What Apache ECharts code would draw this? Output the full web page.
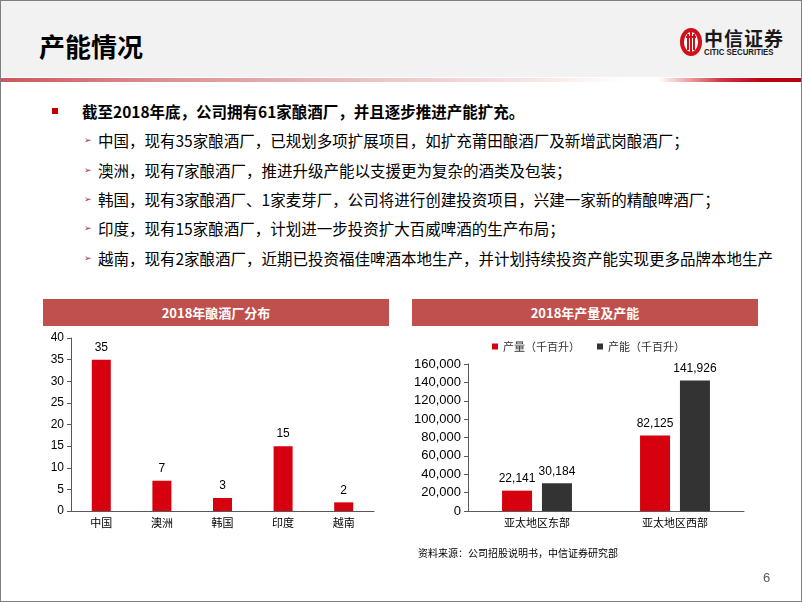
<!DOCTYPE html>
<html><head><meta charset="utf-8">
<script src="https://cdn.jsdelivr.net/npm/echarts@6/dist/echarts.min.js"></script>
<style>
html,body{margin:0;padding:0;background:#fff;}
#slide{position:relative;width:802px;height:602px;box-sizing:border-box;border:1px solid #7f7f7f;overflow:hidden;font-family:"Noto Sans CJK SC",sans-serif;color:#000;}
#chart{position:absolute;left:0;top:0;width:802px;height:602px;}
.abs{position:absolute;white-space:nowrap;}
#hdr{left:0;top:0;width:802px;height:76px;background:#f2f2f2;}
#hline{left:0;top:77px;width:802px;height:4px;background:linear-gradient(to right,#c9585b 0%,#dc8f91 20%,#ebc0c0 45%,#f8e8e8 68%,#ffffff 78%,#ffffff 82%,#ec9a9a 86%,#d03040 90%,#c00010 95%,#b8000e 100%);}
.txt{font-size:15.5px;line-height:20px;}
.arr{font-family:"DejaVu Sans";font-size:9px;color:#b03030;line-height:20px;}
.bar{height:27px;background:#c0504d;color:#fff;font-weight:bold;font-size:13px;line-height:27px;text-align:center;}
</style></head>
<body>
<div id="slide">
  <div id="hdr" class="abs"></div>
  <div id="hline" class="abs"></div>
  <div class="abs" style="left:38px;top:30px;font-size:26px;font-weight:bold;line-height:30px;">产能情况</div>
  <!-- logo -->
  <div class="abs" style="left:679px;top:27px;width:22px;height:28px;border-radius:50%;background:#d0101a;"></div>
  <div class="abs" style="left:683px;top:31px;width:14px;height:20px;border-radius:50%;background:#fff;"></div>
  <div class="abs" style="left:686px;top:33px;width:2px;height:16px;background:#d0101a;"></div>
  <div class="abs" style="left:689px;top:31px;width:2px;height:20px;background:#d0101a;"></div>
  <div class="abs" style="left:692px;top:33px;width:2px;height:16px;background:#d0101a;"></div>
  <div class="abs" style="left:685px;top:35px;width:10px;height:2px;background:#d0101a;"></div>
  <div class="abs" style="left:703px;top:26px;font-size:19px;font-weight:bold;line-height:22px;color:#1a1a1a;font-family:'Noto Sans CJK SC';letter-spacing:1px;">中信证券</div>
  <div class="abs" style="left:703px;top:47px;font-size:8.5px;font-weight:bold;line-height:9px;color:#1a1a1a;font-family:'Liberation Sans Narrow','Liberation Sans';transform:scaleX(0.92);transform-origin:left;">CITIC SECURITIES</div>

  <!-- bullets -->
  <div class="abs" style="left:51px;top:107px;width:6px;height:6px;background:#c00000;"></div>
  <div class="abs txt" style="left:81px;top:100px;font-weight:bold;">截至2018年底，公司拥有61家酿酒厂，并且逐步推进产能扩充。</div>
  <div class="abs arr" style="left:83px;top:129px;">➢</div>
  <div class="abs txt" style="left:97px;top:129px;">中国，现有35家酿酒厂，已规划多项扩展项目，如扩充莆田酿酒厂及新增武岗酿酒厂；</div>
  <div class="abs arr" style="left:83px;top:159px;">➢</div>
  <div class="abs txt" style="left:97px;top:159px;">澳洲，现有7家酿酒厂，推进升级产能以支援更为复杂的酒类及包装；</div>
  <div class="abs arr" style="left:83px;top:188px;">➢</div>
  <div class="abs txt" style="left:97px;top:188px;">韩国，现有3家酿酒厂、1家麦芽厂，公司将进行创建投资项目，兴建一家新的精酿啤酒厂；</div>
  <div class="abs arr" style="left:83px;top:217px;">➢</div>
  <div class="abs txt" style="left:97px;top:217px;">印度，现有15家酿酒厂，计划进一步投资扩大百威啤酒的生产布局；</div>
  <div class="abs arr" style="left:83px;top:247px;">➢</div>
  <div class="abs txt" style="left:97px;top:247px;">越南，现有2家酿酒厂，近期已投资福佳啤酒本地生产，并计划持续投资产能实现更多品牌本地生产</div>

  <!-- chart title bars -->
  <div class="abs bar" style="left:42px;top:298px;width:346px;">2018年酿酒厂分布</div>
  <div class="abs bar" style="left:411px;top:298px;width:346px;">2018年产量及产能</div>

  <div id="chart" class="abs"></div>

  <div class="abs" style="left:417px;top:545px;font-size:10px;line-height:14px;">资料来源：公司招股说明书，中信证券研究部</div>
  <div class="abs" style="left:762px;top:569px;font-size:13px;line-height:16px;color:#595959;font-family:'Liberation Sans';">6</div>
</div>
<script>
// ---- data ----
const factoryCats = ['中国', '澳洲', '韩国', '印度', '越南'];
const factoryCounts = [35, 7, 3, 15, 2];
const regionCats = ['亚太地区东部', '亚太地区西部'];
const outputVals = [22141, 82125];
const capacityVals = [30184, 141926];
const seriesNames = ['产量（千百升）', '产能（千百升）'];

const numFont = 'Arial, "Liberation Sans", "Noto Sans CJK SC", sans-serif';
const fmt = v => String(v).replace(/\B(?=(\d{3})+(?!\d))/g, ',');
const axisLineStyle = { color: '#595959', width: 1 };

const chart = echarts.init(document.getElementById('chart'), null, { renderer: 'canvas' });
chart.setOption({
  animation: false,
  backgroundColor: 'transparent',
  legend: {
    left: 491, top: 340, padding: 0, itemWidth: 6, itemHeight: 6, itemGap: 17, icon: 'rect',
    textStyle: { fontSize: 11, color: '#333', fontFamily: '"Noto Sans CJK SC"' },
    data: seriesNames
  },
  grid: [
    { left: 70, top: 337, width: 303, height: 173 },
    { left: 467, top: 363, width: 276, height: 147 }
  ],
  xAxis: [
    { type: 'category', gridIndex: 0, data: factoryCats,
      axisLine: { lineStyle: axisLineStyle }, axisTick: { show: false },
      axisLabel: { color: '#000', fontSize: 11, margin: 6, fontFamily: '"Noto Sans CJK SC"' } },
    { type: 'category', gridIndex: 1, data: regionCats,
      axisLine: { lineStyle: axisLineStyle }, axisTick: { show: false },
      axisLabel: { color: '#000', fontSize: 11, margin: 6, fontFamily: '"Noto Sans CJK SC"' } }
  ],
  yAxis: [
    { type: 'value', gridIndex: 0, min: 0, max: 40, interval: 5,
      axisLine: { show: true, lineStyle: axisLineStyle }, axisTick: { show: true, length: 4, lineStyle: axisLineStyle },
      splitLine: { show: false },
      axisLabel: { color: '#000', fontSize: 12, margin: 7, fontFamily: numFont } },
    { type: 'value', gridIndex: 1, min: 0, max: 160000, interval: 20000,
      axisLine: { show: true, lineStyle: axisLineStyle }, axisTick: { show: true, length: 4, lineStyle: axisLineStyle },
      splitLine: { show: false },
      axisLabel: { color: '#000', fontSize: 13, margin: 7, fontFamily: numFont, formatter: fmt } }
  ],
  series: [
    { type: 'bar', xAxisIndex: 0, yAxisIndex: 0, data: factoryCounts, barWidth: 19,
      itemStyle: { color: '#d7000f' },
      label: { show: true, position: 'top', distance: 6, color: '#000', fontSize: 12, fontFamily: numFont } },
    { name: seriesNames[0], type: 'bar', xAxisIndex: 1, yAxisIndex: 1, data: outputVals, barWidth: 30, barGap: '33%',
      itemStyle: { color: '#d7000f' },
      label: { show: true, position: 'top', distance: 6, color: '#000', fontSize: 12, fontFamily: numFont, formatter: p => fmt(p.value) } },
    { name: seriesNames[1], type: 'bar', xAxisIndex: 1, yAxisIndex: 1, data: capacityVals, barWidth: 30, barGap: '33%',
      itemStyle: { color: '#333333' },
      label: { show: true, position: 'top', distance: 6, color: '#000', fontSize: 12, fontFamily: numFont, formatter: p => fmt(p.value) } }
  ]
});
</script>
</body></html>
